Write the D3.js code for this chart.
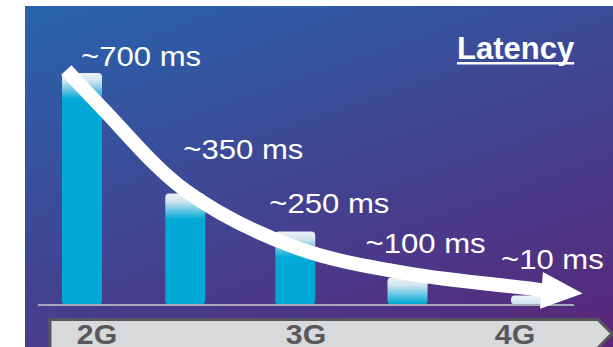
<!DOCTYPE html>
<html>
<head>
<meta charset="utf-8">
<script src="https://cdn.jsdelivr.net/npm/d3@7/dist/d3.min.js"></script>
<style>
body { margin: 0; background: #fff; }
svg { display: block; }
</style>
</head>
<body>
<div id="vis_container"></div>
<script>
// bars: generation position (2G .. 4G) and latency
var barGen = [2, 2.46, 2.95, 3.45, 4];
var barValue = [700, 336, 221, 82, 27];
var barLabels = ["~700 ms", "~350 ms", "~250 ms", "~100 ms", "~10 ms"];

// generation band underneath
var axisGen = [2, 3, 4];
var axisLabels = ["2G", "3G", "4G"];

// the white trend arrow, in the same units (generation, ms)
var arrowGen = [1.93, 2.09, 2.46, 2.95, 3.45, 4.0, 4.06];
var arrowValue = [709, 594, 345, 173, 94, 48, 42];
var arrowTip = [4.23, 33];

// label placement relative to the bar top-left corner
var labelDx = [19, 18, -6, -22, -10];
var labelDy = [-7, -34, -18, -24, -27];

var width = 613;
var height = 347;

var x = d3.scaleLinear().domain([2, 4]).range([82, 531]);
var y = d3.scaleLinear().domain([0, 700]).range([304.5, 73]);
var xBand = d3.scaleLinear().domain([2, 4]).range([97, 515]);

var font = "'Liberation Sans', Arial, sans-serif";

var svg = d3.select("#vis_container")
    .append("svg")
    .attr("width", width)
    .attr("height", height);

var defs = svg.append("defs");

var bg = defs.append("linearGradient")
    .attr("id", "bg")
    .attr("gradientUnits", "userSpaceOnUse")
    .attr("x1", 25).attr("y1", 6)
    .attr("x2", 194).attr("y2", 493);
bg.append("stop").attr("offset", 0).attr("stop-color", "#2864ad");
bg.append("stop").attr("offset", 1).attr("stop-color", "#5a2578");

svg.append("rect")
    .attr("x", 25).attr("y", 6)
    .attr("width", width - 25).attr("height", height - 6)
    .attr("fill", "url(#bg)");

// bars with a pale top fading into cyan
barValue.forEach(function(v, i) {
    var top = y(v);
    var g = defs.append("linearGradient")
        .attr("id", "bar" + i)
        .attr("gradientUnits", "userSpaceOnUse")
        .attr("x1", 0).attr("y1", top)
        .attr("x2", 0).attr("y2", top + 26);
    g.append("stop").attr("offset", 0).attr("stop-color", "#eef1f6");
    g.append("stop").attr("offset", 0.3).attr("stop-color", "#d2e4ef");
    g.append("stop").attr("offset", 1).attr("stop-color", "#00a9d6");
});

svg.selectAll(".bar")
    .data(barValue)
    .enter().append("rect")
    .attr("class", "bar")
    .attr("x", function(d, i) { return x(barGen[i]) - 20; })
    .attr("y", function(d) { return y(d); })
    .attr("width", 40)
    .attr("height", function(d) { return y(0) - y(d); })
    .attr("rx", 4)
    .attr("fill", function(d, i) { return "url(#bar" + i + ")"; });

// baseline
svg.append("line")
    .attr("x1", 38).attr("x2", 574)
    .attr("y1", y(0) + 0.5).attr("y2", y(0) + 0.5)
    .attr("stroke", "#aaa6bc")
    .attr("stroke-width", 2);

// trend arrow
var arrowPts = arrowGen.map(function(g, i) { return [x(g), y(arrowValue[i])]; });
var line = d3.line().curve(d3.curveCatmullRom.alpha(0.5));

svg.append("path")
    .attr("d", line(arrowPts))
    .attr("fill", "none")
    .attr("stroke", "#fff")
    .attr("stroke-width", 14)
    .attr("stroke-linecap", "butt");

var last = arrowPts[arrowPts.length - 1];
var tip = [x(arrowTip[0]), y(arrowTip[1])];
var ang = Math.atan2(tip[1] - last[1], tip[0] - last[0]);
var half = 18.5;
var base = [last[0] - 3 * Math.cos(ang), last[1] - 3 * Math.sin(ang)];
svg.append("path")
    .attr("d", "M" + (base[0] + half * Math.sin(ang)) + "," + (base[1] - half * Math.cos(ang)) +
        "L" + tip[0] + "," + tip[1] +
        "L" + (base[0] - half * Math.sin(ang)) + "," + (base[1] + half * Math.cos(ang)) + "Z")
    .attr("fill", "#fff");

// value labels
svg.selectAll(".label")
    .data(barLabels)
    .enter().append("text")
    .attr("class", "label")
    .attr("transform", function(d, i) {
        var lx = x(barGen[i]) - 20 + labelDx[i];
        var ly = y(barValue[i]) + labelDy[i];
        return "translate(" + lx + "," + ly + ") scale(1.11,1)";
    })
    .style("font-family", font)
    .style("font-size", "28px")
    .attr("fill", "#fff")
    .text(function(d) { return d; });

// title
var title = svg.append("text")
    .attr("x", 457).attr("y", 59)
    .style("font-family", font)
    .style("font-size", "31px")
    .style("font-weight", "bold")
    .attr("fill", "#fff")
    .text("Latency");
var tw = title.node().getComputedTextLength();
svg.append("rect")
    .attr("x", 457).attr("y", 62)
    .attr("width", tw).attr("height", 2.5)
    .attr("fill", "#fff");

// generation band
svg.append("path")
    .attr("d", "M50,349L50,319.5L598,319.5L612,333.5L597,349")
    .attr("fill", "#d8d9db")
    .attr("stroke", "#58585c")
    .attr("stroke-width", 3);

svg.selectAll(".gen")
    .data(axisLabels)
    .enter().append("text")
    .attr("class", "gen")
    .attr("transform", function(d, i) { return "translate(" + xBand(axisGen[i]) + ",344) scale(1.08,1)"; })
    .attr("text-anchor", "middle")
    .style("font-family", font)
    .style("font-size", "28px")
    .style("font-weight", "bold")
    .attr("fill", "#58585c")
    .text(function(d) { return d; });
</script>
</body>
</html>
